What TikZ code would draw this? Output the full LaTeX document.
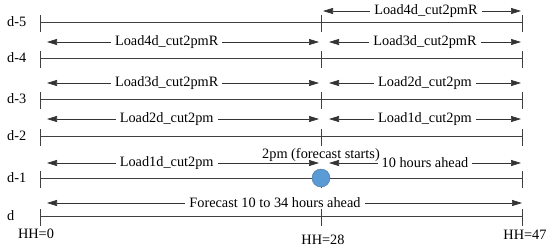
\documentclass[tikz,border=0pt]{standalone}
\usepackage{fontspec}
\setmainfont{Liberation Serif}
\usetikzlibrary{arrows.meta,positioning}
\definecolor{dotfill}{RGB}{91,155,213}
\definecolor{dotline}{RGB}{65,113,156}

\begin{document}
\begin{tikzpicture}[
    x=1pt, y=-1pt,
    line/.style={draw=black!75, line width=0.7pt},
    dim/.style={draw=black!80, line width=0.7pt, {Triangle[length=10pt,width=6pt]}-{Triangle[length=10pt,width=6pt]}},
    lbl/.style={fill=white, inner xsep=4pt, inner ysep=0pt, font=\rmfamily\fontsize{14.3}{17}\selectfont},
    txt/.style={inner sep=0pt, font=\rmfamily\fontsize{14.3}{17}\selectfont},
]
\useasboundingbox (0,0) rectangle (550,250);

% Day timelines with ticks at HH=0, HH=28, HH=47
\foreach \name/\daylab/\y in {d5/d-5/22, d4/d-4/58, d3/d-3/99, d2/d-2/136, d1/d-1/178, d0/d/216} {
    \coordinate (\name-L) at (40,\y);
    \coordinate (\name-M) at (321,\y);
    \coordinate (\name-R) at (522,\y);
    \node[txt, anchor=west] (\name-lab) at (7,\y) {\daylab};
    \draw[line] (\name-L) -- (\name-R);
    \foreach \p in {L,M,R}
        \draw[line] (\name-\p) ++(0,-7) -- ++(0,17);
}

% Load windows before and after 2pm
\coordinate (w0-N) at (323,11);
\coordinate (w0-R) at (521,11);
\draw[dim] (w0-N) -- node[lbl, pos=0.52] (w0-rt) {Load4d\_cut2pmR} (w0-R);

\foreach \i/\y/\ltxt/\rtxt in {1/42/Load4d\_cut2pmR/Load3d\_cut2pmR, 2/83/Load3d\_cut2pmR/Load2d\_cut2pm, 3/119/Load2d\_cut2pm/Load1d\_cut2pm, 4/163/Load1d\_cut2pm/10 hours ahead} {
    \coordinate (w\i-L) at (47,\y);
    \coordinate (w\i-M) at (319,\y);
    \coordinate (w\i-N) at (329,\y);
    \coordinate (w\i-R) at (521,\y);
    \draw[dim] (w\i-L) -- node[lbl, pos=0.44] (w\i-lt) {\ltxt} (w\i-M);
    \draw[dim] (w\i-N) -- node[lbl, pos=0.5] (w\i-rt) {\rtxt} (w\i-R);
}

% Forecast horizon
\coordinate (f-L) at (47,203);
\coordinate (f-R) at (522,203);
\draw[dim] (f-L) -- node[lbl, pos=0.48] (f-lab) {Forecast 10 to 34 hours ahead} (f-R);

% Forecast start
\node[circle, fill=dotfill, draw=dotline, minimum size=18pt, inner sep=0pt] (start) at (d1-M) {};
\node[txt] (start-lab) at (321,155) {2pm (forecast starts)};

% Hour labels
\node[txt] (hh0) at (36,234) {HH=0};
\node[txt] (hh28) at (323,240) {HH=28};
\node[txt] (hh47) at (525,235) {HH=47};

\end{tikzpicture}
\end{document}
